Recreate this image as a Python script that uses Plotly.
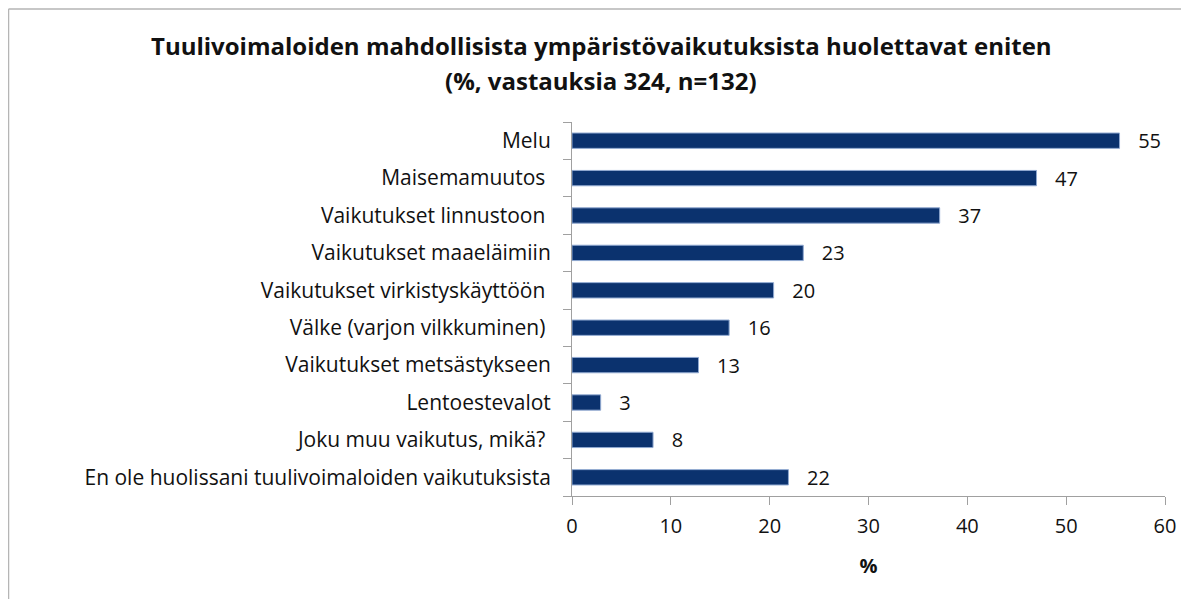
import plotly.graph_objects as go

categories = [
    "Melu",
    "Maisemamuutos ",
    "Vaikutukset linnustoon ",
    "Vaikutukset maaeläimiin",
    "Vaikutukset virkistyskäyttöön ",
    "Välke (varjon vilkkuminen) ",
    "Vaikutukset metsästykseen",
    "Lentoestevalot",
    "Joku muu vaikutus, mikä? ",
    "En ole huolissani tuulivoimaloiden vaikutuksista",
]
values = [55.4, 47.0, 37.2, 23.4, 20.4, 15.9, 12.8, 2.9, 8.2, 21.9]
x_ticks = [0, 10, 20, 30, 40, 50, 60]

title_lines = [
    "Tuulivoimaloiden mahdollisista ympäristövaikutuksista huolettavat eniten",
    "(%, vastauksia 324, n=132)",
]

# page has an 8px body margin; figure coordinates = page coordinates - 8
OFF = 8
W, H = 1189 - OFF, 599 - OFF
L = 572 - OFF
T = 122 - OFF
R = W - (1165 - OFF)
B = H - (496 - OFF)

pw, ph = W - L - R, H - T - B


def fx(px):
    return (px - OFF - L) / pw


def fy(py):
    return (H - B - (py - OFF)) / ph


fig = go.Figure(
    go.Bar(
        x=values,
        y=categories,
        orientation="h",
        marker=dict(color="#0B326E", line=dict(color="#8FA8D0", width=1)),
        texttemplate="   %{x:.0f}",
        textposition="outside",
        constraintext="none",
        textfont=dict(family="Open Sans", size=20, color="#111111"),
        cliponaxis=False,
        width=0.41,
    )
)

fig.update_layout(
    width=W,
    height=H,
    margin=dict(l=L, r=R, t=T, b=B, autoexpand=False),
    paper_bgcolor="white",
    plot_bgcolor="white",
    showlegend=False,
    annotations=[
        dict(
            text="<b>" + title_lines[0] + "</b>",
            xref="paper", yref="paper",
            x=fx(601), y=fy(45),
            xanchor="center", yanchor="middle",
            showarrow=False,
            font=dict(family="Open Sans", size=24, color="#111111"),
        ),
        dict(
            text="<b>" + title_lines[1] + "</b>",
            xref="paper", yref="paper",
            x=fx(601), y=fy(80),
            xanchor="center", yanchor="middle",
            showarrow=False,
            font=dict(family="Open Sans", size=24, color="#111111"),
        ),
    ],
    xaxis=dict(
        range=[0, 60],
        tickvals=x_ticks,
        showgrid=False,
        zeroline=False,
        showline=True,
        linecolor="#A0A0A0",
        linewidth=1,
        ticks="outside",
        ticklen=8,
        tickcolor="#A0A0A0",
        ticklabelstandoff=4,
        tickfont=dict(family="Open Sans", size=20, color="#111111"),
        title=dict(text="<b>%</b>", font=dict(family="Open Sans", size=20, color="#111111"), standoff=20),
    ),
    yaxis=dict(
        categoryorder="array",
        categoryarray=categories[::-1],
        showgrid=False,
        zeroline=False,
        showline=True,
        linecolor="#A0A0A0",
        linewidth=1,
        ticks="outside",
        ticklen=8,
        tickcolor="#A0A0A0",
        tickson="boundaries",
        ticklabelstandoff=16,
        tickfont=dict(family="Open Sans", size=21, color="#111111"),
    ),
    shapes=[
        dict(type="line", xref="paper", yref="paper",
             x0=fx(8.5), x1=fx(8.5), y0=fy(600), y1=fy(9),
             line=dict(color="#B5B5B5", width=1.5)),
        dict(type="line", xref="paper", yref="paper",
             x0=fx(8.5), x1=fx(1190), y0=fy(9), y1=fy(9),
             line=dict(color="#B5B5B5", width=1.5)),
    ],
)

fig.write_html("out.html")
